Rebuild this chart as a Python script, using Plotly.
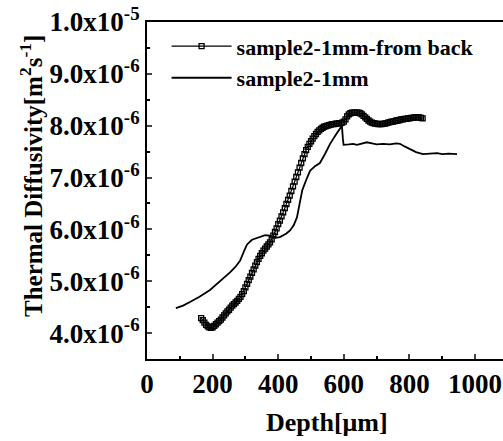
import plotly.graph_objects as go

# ---- data (depth in um, diffusivity in m^2/s) ----
back_depth = list(range(165, 841, 5))
back_diff_e6 = [
    4.29, 4.25, 4.20, 4.16, 4.13, 4.11, 4.10, 4.11, 4.14, 4.17,
    4.20, 4.23, 4.26, 4.30, 4.34, 4.38, 4.42, 4.45, 4.49, 4.53,
    4.56, 4.59, 4.62, 4.66, 4.70, 4.75, 4.81, 4.88, 4.95, 5.02,
    5.09, 5.16, 5.23, 5.30, 5.37, 5.43, 5.49, 5.54, 5.59, 5.63,
    5.67, 5.71, 5.75, 5.81, 5.88, 5.95, 6.02, 6.10, 6.17, 6.25,
    6.33, 6.41, 6.49, 6.57, 6.65, 6.74, 6.83, 6.92, 7.01, 7.10,
    7.19, 7.28, 7.37, 7.45, 7.53, 7.59, 7.65, 7.70, 7.75, 7.80,
    7.84, 7.88, 7.91, 7.94, 7.96, 7.98, 7.99, 8.00, 8.01, 8.02,
    8.03, 8.03, 8.04, 8.04, 8.05, 8.05, 8.06, 8.08, 8.12, 8.18,
    8.22, 8.24, 8.25, 8.25, 8.25, 8.25, 8.25, 8.24, 8.22, 8.19,
    8.16, 8.13, 8.10, 8.08, 8.06, 8.05, 8.04, 8.04, 8.03, 8.03,
    8.03, 8.04, 8.04, 8.05, 8.06, 8.07, 8.08, 8.08, 8.09, 8.10,
    8.10, 8.11, 8.12, 8.12, 8.13, 8.13, 8.14, 8.14, 8.15, 8.15,
    8.16, 8.16, 8.16, 8.16, 8.15, 8.14,
]

front_depth = [88, 110, 131, 160, 192, 220, 253, 270, 284, 295, 305, 320, 345,
               360, 375, 385, 396, 405, 415, 425, 436, 447, 457, 466, 473, 485,
               497, 512, 527, 542, 558, 575, 588, 594, 597, 599, 615, 628, 640,
               655, 670, 686, 700, 720, 740, 760, 771, 785, 802, 820, 841, 860,
               884, 900, 920, 945]
front_diff_e6 = [4.48, 4.53, 4.60, 4.70, 4.83, 4.98, 5.17, 5.28, 5.40, 5.57,
                 5.71, 5.80, 5.86, 5.89, 5.88, 5.86, 5.84, 5.85, 5.88, 5.92,
                 5.98, 6.08, 6.23, 6.55, 6.75, 6.95, 7.13, 7.22, 7.28, 7.45,
                 7.65, 7.82, 7.96, 8.00, 7.75, 7.63, 7.64, 7.65, 7.63, 7.66,
                 7.68, 7.66, 7.64, 7.65, 7.64, 7.66, 7.65, 7.60, 7.55, 7.49,
                 7.45, 7.46, 7.47, 7.45, 7.46, 7.45]

y_tickvals = [4e-6, 5e-6, 6e-6, 7e-6, 8e-6, 9e-6, 1e-5]
y_ticktext = ["4.0x10<sup>-6</sup>", "5.0x10<sup>-6</sup>", "6.0x10<sup>-6</sup>",
              "7.0x10<sup>-6</sup>", "8.0x10<sup>-6</sup>", "9.0x10<sup>-6</sup>",
              "1.0x10<sup>-5</sup>"]
x_tickvals = [0, 200, 400, 600, 800, 1000]

FONT = "Liberation Serif"

W, H = 503, 441
PL, PT, PB = 147, 22, 359  # plot area edges in page px
PW, PH = W - PL, PB - PT

fig = go.Figure()
fig.add_trace(go.Scatter(
    x=back_depth, y=[v * 1e-6 for v in back_diff_e6],
    mode="lines+markers", name="sample2-1mm-from back",
    line=dict(color="black", width=1.2),
    marker=dict(symbol="square-open", size=5, color="black", line=dict(width=1.3)),
))
fig.add_trace(go.Scatter(
    x=front_depth, y=[v * 1e-6 for v in front_diff_e6],
    mode="lines", name="sample2-1mm",
    line=dict(color="black", width=1.8),
))

fig.update_layout(
    width=W, height=H,
    margin=dict(l=PL, r=0, t=PT, b=H - PB, autoexpand=False),
    paper_bgcolor="white", plot_bgcolor="white",
    font=dict(family=FONT, size=26, color="black", weight="bold"),
    showlegend=True,
    legend=dict(x=0.055, y=0.99, xanchor="left", yanchor="top",
                bgcolor="rgba(0,0,0,0)",
                font=dict(size=22, family=FONT, weight="bold"),
                itemwidth=60, tracegroupgap=0),
    xaxis=dict(range=[0, 1085], tickvals=x_tickvals, ticks="inside", ticklen=5,
               tickwidth=1.5, showline=True, linecolor="black", linewidth=2,
               mirror=True, showgrid=False, zeroline=False, automargin=False,
               ticklabeloverflow="allow",
               minor=dict(tickvals=[100, 300, 500, 700, 900], ticks="inside",
                          ticklen=3, tickcolor="black"),
               tickfont=dict(size=27, family=FONT, weight="bold")),
    yaxis=dict(range=[3.5e-6, 1.0e-5], tickvals=y_tickvals, ticktext=y_ticktext,
               ticks="inside", ticklen=5, tickwidth=1.5, showline=True,
               linecolor="black", linewidth=2, showgrid=False, zeroline=False,
               automargin=False, ticklabeloverflow="allow",
               minor=dict(tickvals=[4.5e-6, 5.5e-6, 6.5e-6, 7.5e-6, 8.5e-6, 9.5e-6],
                          ticks="inside", ticklen=3, tickcolor="black"),
               tickfont=dict(size=27, family=FONT, weight="bold"),
               ticklabelstandoff=0),
    annotations=[
        dict(text="Depth[μm]", xref="paper", yref="paper",
             x=(327 - PL) / PW, y=-(423 - PB) / PH,
             xanchor="center", yanchor="middle", showarrow=False,
             font=dict(size=26, family=FONT, weight="bold")),
        dict(text="Thermal Diffusivity[m<sup>2</sup>s<sup>-1</sup>]", xref="paper",
             yref="paper", x=-(PL - 31) / PW, y=(PB - 176) / PH,
             xanchor="center", yanchor="middle", textangle=-90, showarrow=False,
             font=dict(size=25, family=FONT, weight="bold")),
    ],
)

fig.write_html("out.html",
               config={"displayModeBar": False},
               post_script="document.body.style.margin='0';"
                           "document.body.style.overflow='hidden';")
